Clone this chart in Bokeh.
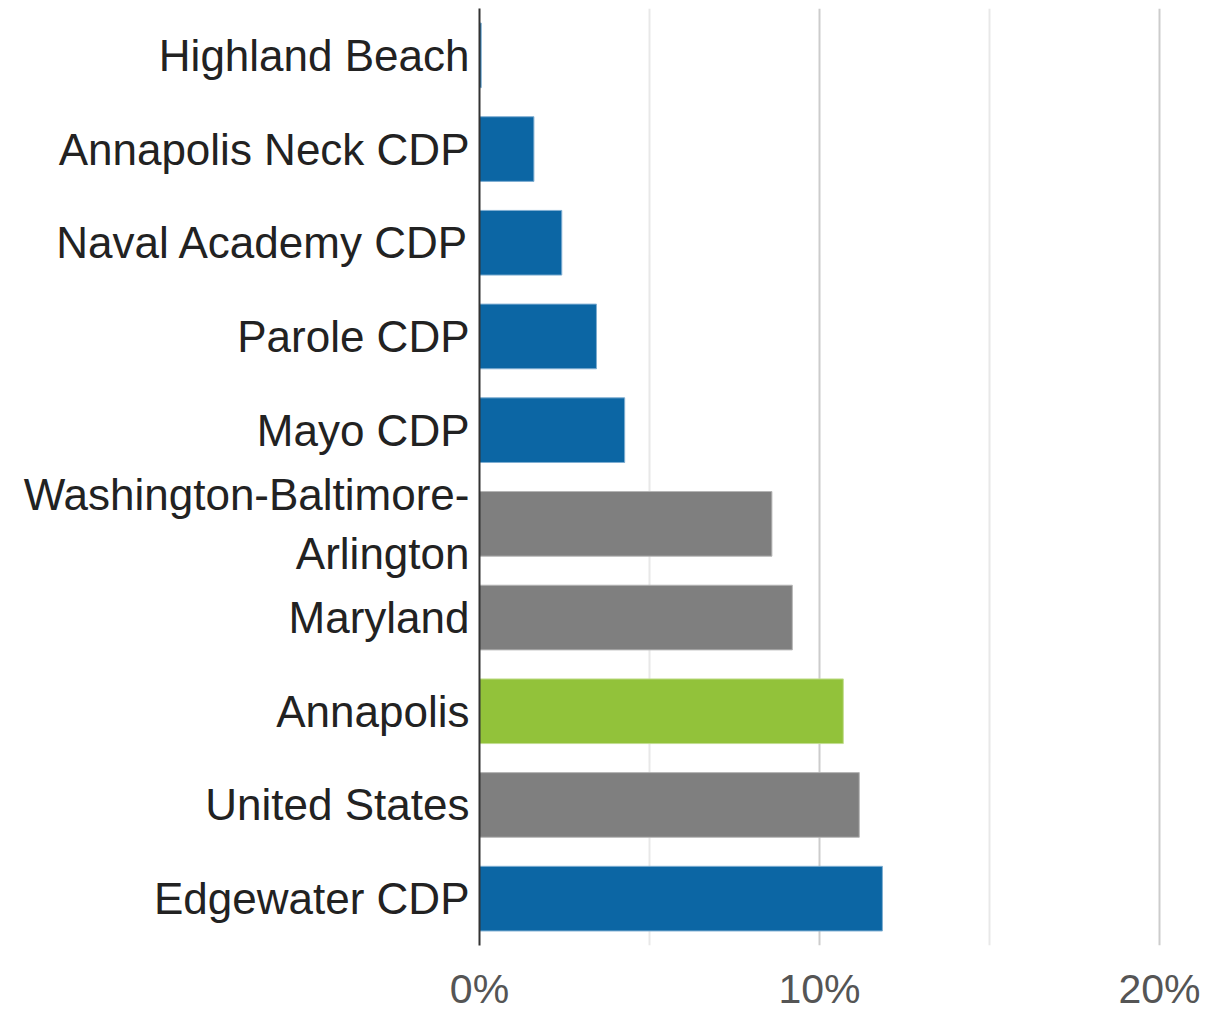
from bokeh.plotting import figure
from bokeh.models import FactorRange, Range1d, FixedTicker, ColumnDataSource, CustomJSTickFormatter
from bokeh.embed import file_html
from bokeh.resources import INLINE

categories = ["Highland Beach", "Annapolis Neck CDP", "Naval Academy CDP", "Parole CDP", "Mayo CDP",
              "Washington-Baltimore-\nArlington", "Maryland", "Annapolis", "United States", "Edgewater CDP"]
values = [0.05, 1.6, 2.42, 3.44, 4.27, 8.6, 9.2, 10.7, 11.17, 11.85]
kinds = ["local", "local", "local", "local", "local", "region", "region", "focus", "region", "local"]
tick_values = [0, 10, 20]
minor_tick_values = [5, 15]

palette = {"local": "#0C66A4", "region": "#7F7F7F", "focus": "#92C23A"}
edge = {"local": "#7FAED2", "region": "#B5B5B5", "focus": "#C2DD90"}
colors = [palette[k] for k in kinds]
edges = [edge[k] for k in kinds]

source = ColumnDataSource(dict(cat=categories, val=values, color=colors, edge=edges))

p = figure(width=1227, height=1014,
           y_range=FactorRange(factors=list(reversed(categories))),
           x_range=Range1d(0, 22.0),
           output_backend="svg", toolbar_location=None,
           min_border_left=479, min_border_right=0, min_border_top=8, min_border_bottom=68)

p.hbar(y="cat", right="val", left=0, height=0.69, source=source,
       fill_color="color", line_color="edge", line_width=1)

p.outline_line_color = None
p.background_fill_color = "white"

p.xaxis.ticker = FixedTicker(ticks=tick_values, minor_ticks=minor_tick_values)
p.xaxis.formatter = CustomJSTickFormatter(code="return tick + '%';")
p.xaxis.axis_line_color = None
p.xaxis.major_tick_line_color = None
p.xaxis.minor_tick_line_color = None
p.xaxis.major_tick_out = 0
p.xaxis.minor_tick_out = 0
p.xaxis.major_label_standoff = 20
p.xaxis.major_label_text_font = "Liberation Sans"
p.xaxis.major_label_text_font_size = "41px"
p.xaxis.major_label_text_color = "#555555"

p.yaxis.axis_line_color = "#333333"
p.yaxis.axis_line_width = 2
p.yaxis.major_tick_line_color = None
p.yaxis.minor_tick_line_color = None
p.yaxis.major_tick_out = 0
p.yaxis.major_label_standoff = 10
p.yaxis.major_label_text_font = "Liberation Sans"
p.yaxis.major_label_text_font_size = "44px"
p.yaxis.major_label_text_color = "#222222"

p.ygrid.grid_line_color = None
p.xgrid.grid_line_color = "#cccccc"
p.xgrid.grid_line_width = 2
p.xgrid.minor_grid_line_color = "#e8e8e8"
p.xgrid.minor_grid_line_width = 2

open("out.html", "w").write(file_html(p, INLINE))
